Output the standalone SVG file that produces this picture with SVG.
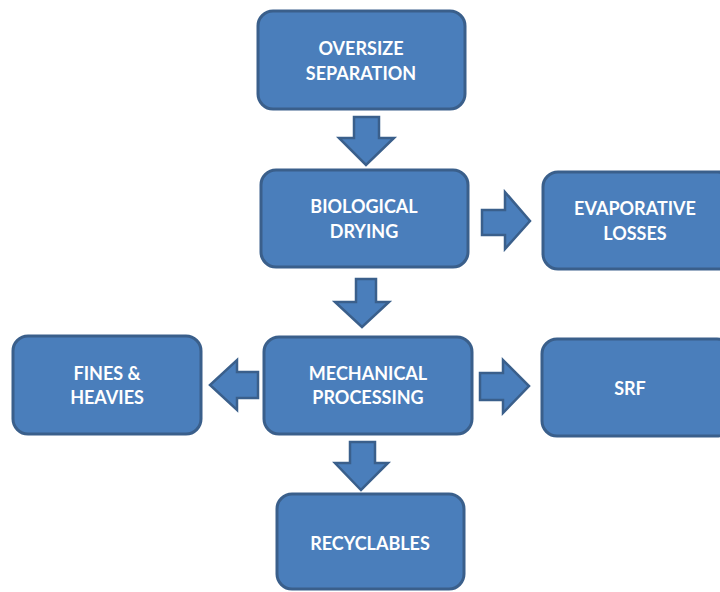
<svg xmlns="http://www.w3.org/2000/svg" width="720" height="592" viewBox="0 0 720 592">
<style>
.box{fill:#4a7ebb;stroke:#3a5f8b;stroke-width:3}
.arr{fill:#4a7ebb;stroke:#3a5f8b;stroke-width:2.5;stroke-linejoin:miter}
.t{font-family:Lato,"Open Sans","Liberation Sans",sans-serif;font-weight:bold;font-size:18px;fill:#ffffff;text-anchor:middle}
</style>
<rect width="720" height="592" fill="#ffffff"/>
<g id="connectors">
<polygon class="arr" points="354,117 379,117 379,138 394,138 366,165 339,138 354,138"/>
<polygon class="arr" points="356,279 376,279 376,302 389,302 362,327 335,302 356,302"/>
<polygon class="arr" points="350,442 375,442 375,463 388,463 361,490 335,463 350,463"/>
<polygon class="arr" points="482,210 505,210 505,192 530,221 505,249 505,235 482,235"/>
<polygon class="arr" points="480,373 503,373 503,360 529,386 503,413 503,400 480,400"/>
<polygon class="arr" points="258,372 237,372 237,360 210,385 237,410 237,398 258,398"/>
</g>
<g id="oversize">
<rect class="box" x="258" y="11" width="207" height="98" rx="15"/>
<text class="t" x="361" y="55">OVERSIZE</text>
<text class="t" x="361" y="80">SEPARATION</text>
</g>
<g id="biological">
<rect class="box" x="261" y="170" width="207" height="97" rx="15"/>
<text class="t" x="364" y="213">BIOLOGICAL</text>
<text class="t" x="364" y="238">DRYING</text>
</g>
<g id="evaporative">
<rect class="box" x="543" y="172" width="190" height="97" rx="15"/>
<text class="t" x="635" y="215">EVAPORATIVE</text>
<text class="t" x="635" y="240">LOSSES</text>
</g>
<g id="mechanical">
<rect class="box" x="264" y="337" width="208" height="97" rx="15"/>
<text class="t" x="368" y="380">MECHANICAL</text>
<text class="t" x="368" y="404">PROCESSING</text>
</g>
<g id="fines">
<rect class="box" x="13" y="336" width="188" height="98" rx="15"/>
<text class="t" x="107" y="380">FINES &amp;</text>
<text class="t" x="107" y="404">HEAVIES</text>
</g>
<g id="srf">
<rect class="box" x="542" y="339" width="190" height="97" rx="15"/>
<text class="t" x="630" y="395">SRF</text>
</g>
<g id="recyclables">
<rect class="box" x="277" y="494" width="187" height="95" rx="15"/>
<text class="t" x="370" y="550">RECYCLABLES</text>
</g>
</svg>
